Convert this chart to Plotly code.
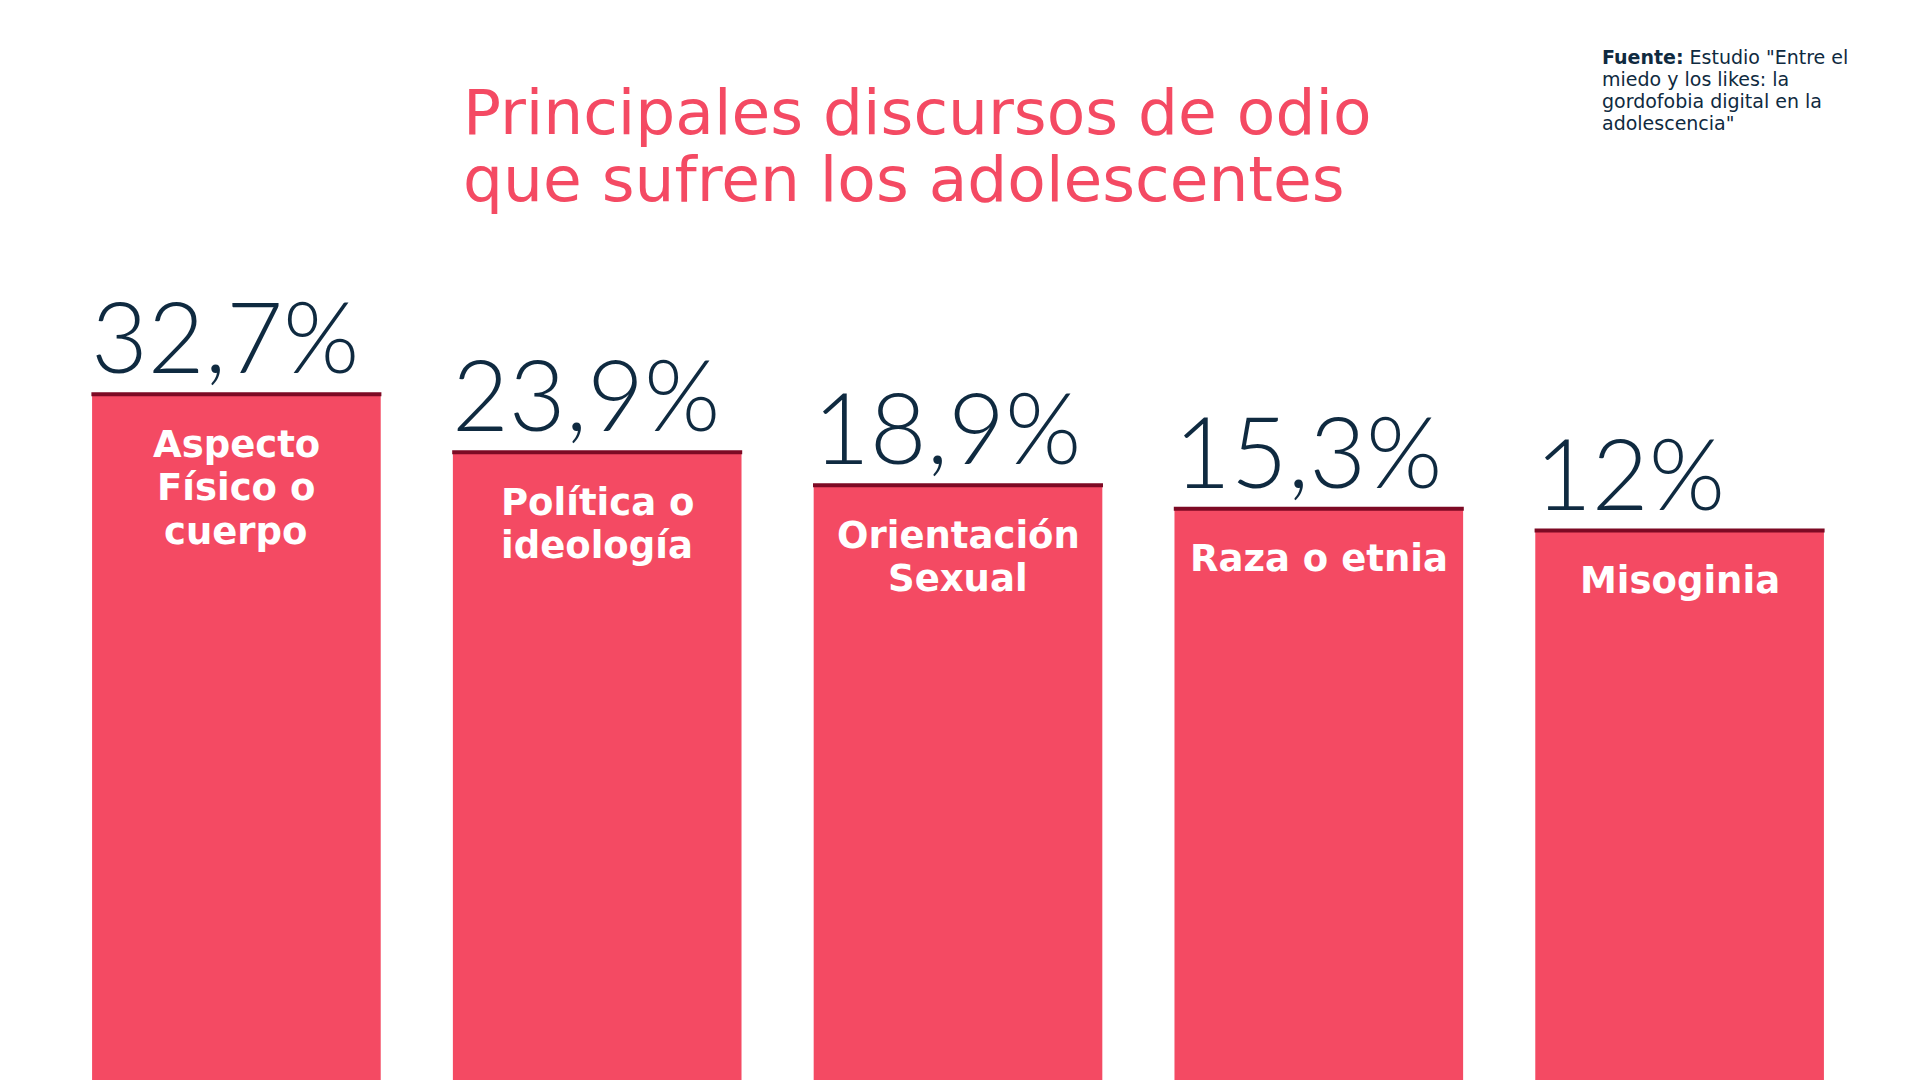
import plotly.graph_objects as go

categorias = ["Aspecto Físico o cuerpo", "Política o ideología", "Orientación Sexual",
              "Raza o etnia", "Misoginia"]
etiquetas = [["Aspecto", "Físico o", "cuerpo"], ["Política o", "ideología"],
             ["Orientación", "Sexual"], ["Raza o etnia"], ["Misoginia"]]
porcentajes = [32.7, 23.9, 18.9, 15.3, 12.0]
textos_pct = ["32,7%", "23,9%", "18,9%", "15,3%", "12%"]

titulo = ["Principales discursos de odio", "que sufren los adolescentes"]
fuente = ['<b>Fuente:</b> Estudio "Entre el', 'miedo y los likes: la',
          'gordofobia digital en la', 'adolescencia"']

ROSA = "#F44A63"
GRANATE = "#7D0A24"
AZUL = "#0F2A40"
LETRA = "DejaVu Sans"
LETRA_NUM = "Lato"

# el eje no parte de cero: las barras salen desde el borde de abajo
Y_MIN, Y_MAX = -72.7, 91.4

fig = go.Figure()
fig.add_trace(go.Bar(
    x=categorias,
    y=[p - Y_MIN for p in porcentajes],
    base=Y_MIN,
    marker=dict(color=ROSA, line=dict(width=0)),
    error_y=dict(type="data", array=[0] * len(porcentajes), visible=True,
                 width=145, thickness=4, color=GRANATE),
    hoverinfo="skip",
))

anots = []
for i, cat in enumerate(categorias):
    anots.append(dict(x=cat, y=porcentajes[i], xref="x", yref="y", text=textos_pct[i],
                      xanchor="left", xshift=-147, yanchor="bottom", yshift=-2,
                      showarrow=False,
                      font=dict(family=LETRA_NUM, size=98, color=AZUL, weight=300)))
    for j, linea in enumerate(etiquetas[i]):
        anots.append(dict(x=cat, y=porcentajes[i], xref="x", yref="y", text=linea,
                          xanchor="center", yanchor="top", yshift=-26.5 - j * 43.5,
                          showarrow=False,
                          font=dict(family=LETRA, size=37, color="white", weight=700)))

for j, linea in enumerate(titulo):
    anots.append(dict(x=0.2245, y=0.939, xref="paper", yref="paper", text=linea,
                      xanchor="left", yanchor="top", yshift=-j * 67, showarrow=False,
                      font=dict(family=LETRA, size=63, color=ROSA)))

for j, linea in enumerate(fuente):
    anots.append(dict(x=0.8559, y=0.9663, xref="paper", yref="paper", text=linea,
                      xanchor="left", yanchor="top", yshift=-j * 22, showarrow=False,
                      align="left",
                      font=dict(family=LETRA, size=19, color=AZUL)))

fig.update_layout(
    width=1920, height=1080,
    margin=dict(l=48, r=68, t=0, b=0, pad=0),
    paper_bgcolor="white", plot_bgcolor="white",
    bargap=0.2,
    showlegend=False,
    xaxis=dict(visible=False, range=[-0.5, 4.5]),
    yaxis=dict(visible=False, range=[Y_MIN, Y_MAX]),
    annotations=anots,
)

fig.write_html("out.html")
